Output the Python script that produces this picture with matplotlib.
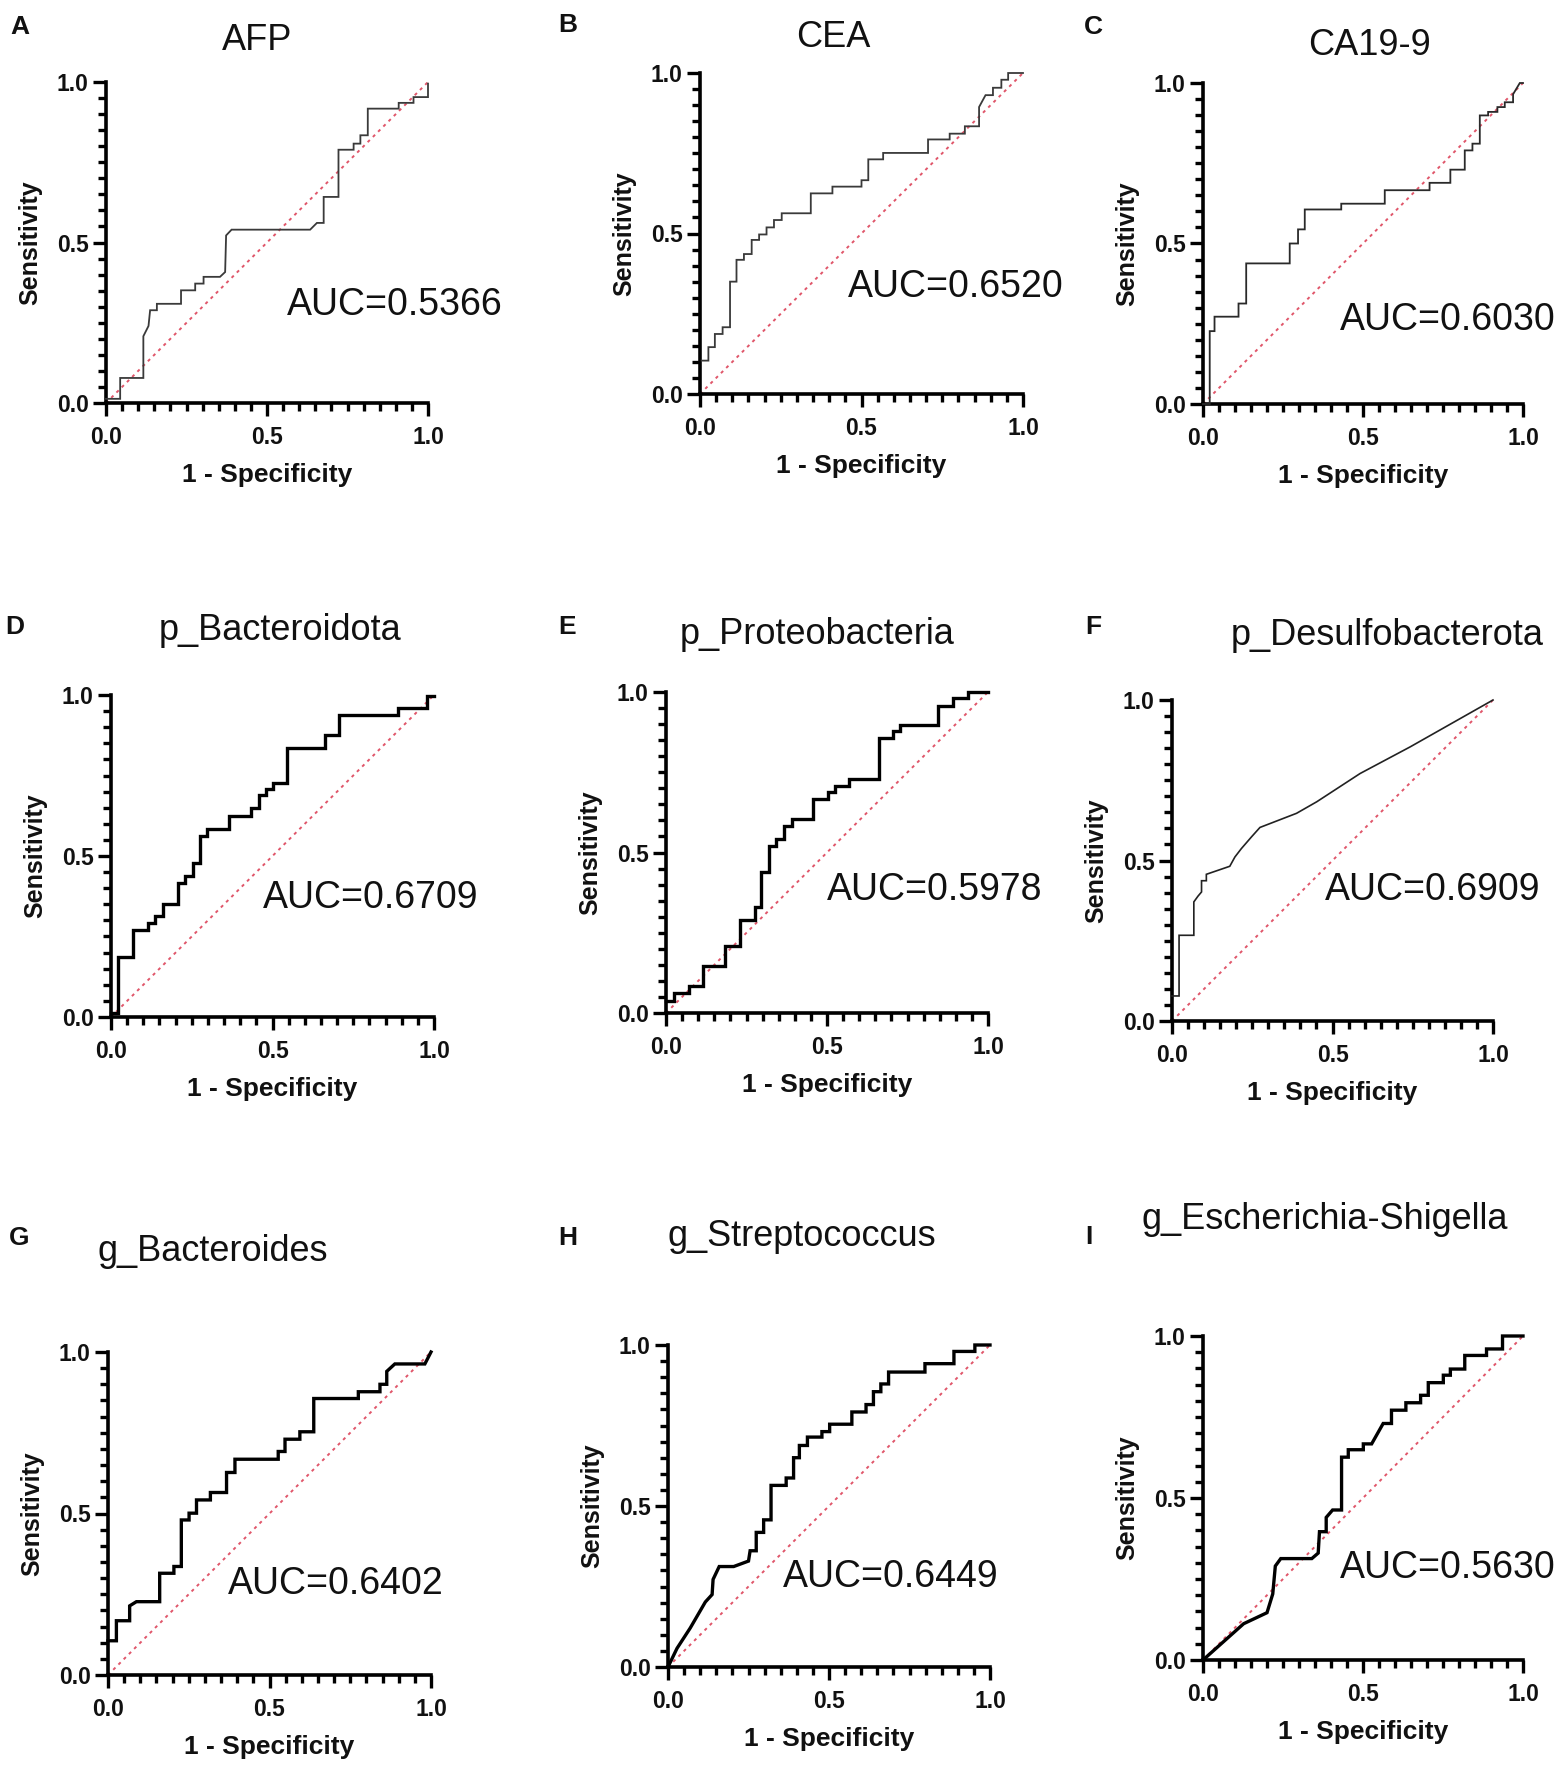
import matplotlib
matplotlib.use("Agg")
import matplotlib.pyplot as plt
from matplotlib.ticker import MultipleLocator

plt.rcParams['font.family'] = ['Liberation Sans', 'DejaVu Sans']

W, H = 1565, 1772

# ---------------- data ----------------
titles = ["AFP", "CEA", "CA19-9", "p_Bacteroidota", "p_Proteobacteria",
          "p_Desulfobacterota", "g_Bacteroides", "g_Streptococcus",
          "g_Escherichia-Shigella"]
letters = ["A", "B", "C", "D", "E", "F", "G", "H", "I"]
auc_labels = ["AUC=0.5366", "AUC=0.6520", "AUC=0.6030", "AUC=0.6709", "AUC=0.5978",
              "AUC=0.6909", "AUC=0.6402", "AUC=0.6449", "AUC=0.5630"]
tick_labels = ["0.0", "0.5", "1.0"]

afp_fpr = [0, 0.044, 0.044, 0.116, 0.116, 0.132, 0.137, 0.158, 0.158, 0.233, 0.233,
           0.277, 0.277, 0.303, 0.303, 0.354, 0.370, 0.373, 0.390, 0.634, 0.655, 0.676,
           0.676, 0.722, 0.722, 0.769, 0.769, 0.790, 0.790, 0.813, 0.813, 0.909, 0.909,
           0.955, 0.955, 1.0, 1.0]
afp_tpr = [0.013, 0.013, 0.078, 0.078, 0.208, 0.240, 0.289, 0.289, 0.309, 0.309, 0.351,
           0.351, 0.372, 0.372, 0.393, 0.393, 0.408, 0.522, 0.540, 0.540, 0.561, 0.561,
           0.642, 0.642, 0.789, 0.789, 0.808, 0.808, 0.834, 0.834, 0.917, 0.917, 0.935,
           0.935, 0.953, 0.953, 0.995]

cea_fpr = [0.005, 0.026, 0.026, 0.046, 0.046, 0.070, 0.070, 0.093, 0.093, 0.113, 0.113,
           0.136, 0.136, 0.160, 0.160, 0.183, 0.183, 0.206, 0.206, 0.229, 0.229, 0.253,
           0.253, 0.343, 0.343, 0.410, 0.410, 0.500, 0.500, 0.521, 0.521, 0.567, 0.567,
           0.706, 0.706, 0.773, 0.773, 0.820, 0.820, 0.864, 0.864, 0.884, 0.907, 0.907,
           0.933, 0.933, 0.954, 0.954, 1.0]
cea_tpr = [0.104, 0.104, 0.146, 0.146, 0.187, 0.187, 0.208, 0.208, 0.350, 0.350, 0.418,
           0.418, 0.436, 0.436, 0.480, 0.480, 0.497, 0.497, 0.519, 0.519, 0.542, 0.542,
           0.563, 0.563, 0.625, 0.625, 0.646, 0.646, 0.666, 0.666, 0.731, 0.731, 0.751,
           0.751, 0.793, 0.793, 0.811, 0.811, 0.834, 0.834, 0.894, 0.931, 0.931, 0.954,
           0.954, 0.979, 0.979, 1.0, 1.0]

ca199_fpr = [0.0, 0.021, 0.021, 0.036, 0.036, 0.111, 0.111, 0.135, 0.135, 0.271, 0.271,
             0.297, 0.297, 0.318, 0.318, 0.432, 0.432, 0.568, 0.568, 0.708, 0.708, 0.773,
             0.773, 0.818, 0.818, 0.842, 0.842, 0.865, 0.865, 0.891, 0.891, 0.920, 0.920,
             0.943, 0.943, 0.969, 0.969, 0.990, 1.0]
ca199_tpr = [0.0, 0.0, 0.227, 0.227, 0.272, 0.272, 0.313, 0.313, 0.438, 0.438, 0.500,
             0.500, 0.544, 0.544, 0.606, 0.606, 0.624, 0.624, 0.666, 0.666, 0.689, 0.689,
             0.730, 0.730, 0.790, 0.790, 0.811, 0.811, 0.899, 0.899, 0.910, 0.910, 0.925,
             0.925, 0.940, 0.940, 0.965, 1.0, 1.0]

bacteroidota_fpr = [0, 0.023, 0.023, 0.069, 0.069, 0.116, 0.116, 0.137, 0.137, 0.162, 0.162,
                    0.208, 0.208, 0.229, 0.229, 0.253, 0.253, 0.276, 0.276, 0.296, 0.296,
                    0.366, 0.366, 0.432, 0.432, 0.459, 0.459, 0.480, 0.480, 0.500, 0.500,
                    0.544, 0.544, 0.663, 0.663, 0.707, 0.707, 0.890, 0.890, 0.978, 0.978, 1.0]
bacteroidota_tpr = [0.012, 0.012, 0.187, 0.187, 0.269, 0.269, 0.292, 0.292, 0.313, 0.313,
                    0.352, 0.352, 0.415, 0.415, 0.437, 0.437, 0.479, 0.479, 0.563, 0.563,
                    0.585, 0.585, 0.624, 0.624, 0.648, 0.648, 0.689, 0.689, 0.707, 0.707,
                    0.727, 0.727, 0.834, 0.834, 0.876, 0.876, 0.938, 0.938, 0.959, 0.959,
                    0.997, 0.997]

proteobacteria_fpr = [0, 0.026, 0.026, 0.070, 0.070, 0.116, 0.116, 0.183, 0.183, 0.229,
                      0.229, 0.276, 0.276, 0.296, 0.296, 0.320, 0.320, 0.343, 0.343, 0.367,
                      0.367, 0.390, 0.390, 0.458, 0.458, 0.504, 0.504, 0.525, 0.525, 0.569,
                      0.569, 0.662, 0.662, 0.706, 0.706, 0.726, 0.726, 0.845, 0.845, 0.890,
                      0.890, 0.938, 0.938, 1.0]
proteobacteria_tpr = [0.036, 0.036, 0.062, 0.062, 0.083, 0.083, 0.147, 0.147, 0.210, 0.210,
                      0.291, 0.291, 0.330, 0.330, 0.438, 0.438, 0.521, 0.521, 0.542, 0.542,
                      0.584, 0.584, 0.604, 0.604, 0.667, 0.667, 0.687, 0.687, 0.708, 0.708,
                      0.729, 0.729, 0.857, 0.857, 0.877, 0.877, 0.898, 0.898, 0.957, 0.957,
                      0.981, 0.981, 1.0, 1.0]

desulfo_fpr = [0, 0.022, 0.022, 0.068, 0.068, 0.081, 0.092, 0.092, 0.107, 0.107, 0.180,
               0.196, 0.216, 0.248, 0.274, 0.388, 0.451, 0.586, 0.742, 1.0]
desulfo_tpr = [0.078, 0.078, 0.267, 0.267, 0.371, 0.389, 0.402, 0.437, 0.437, 0.457, 0.482,
               0.511, 0.537, 0.574, 0.603, 0.647, 0.683, 0.771, 0.854, 1.0]

bacteroides_fpr = [0, 0.026, 0.026, 0.067, 0.067, 0.088, 0.160, 0.160, 0.204, 0.204, 0.227,
                   0.227, 0.251, 0.251, 0.274, 0.274, 0.317, 0.317, 0.367, 0.367, 0.393,
                   0.393, 0.527, 0.527, 0.548, 0.548, 0.594, 0.594, 0.637, 0.637, 0.775,
                   0.775, 0.842, 0.842, 0.863, 0.863, 0.888, 0.981, 1.0]
bacteroides_tpr = [0.106, 0.106, 0.168, 0.168, 0.214, 0.227, 0.227, 0.315, 0.315, 0.336,
                   0.336, 0.480, 0.480, 0.501, 0.501, 0.542, 0.542, 0.565, 0.565, 0.627,
                   0.627, 0.668, 0.668, 0.692, 0.692, 0.730, 0.730, 0.753, 0.753, 0.856,
                   0.856, 0.877, 0.877, 0.900, 0.900, 0.940, 0.963, 0.963, 1.0]

strepto_fpr = [0, 0.028, 0.069, 0.116, 0.137, 0.140, 0.159, 0.204, 0.250, 0.255, 0.274,
               0.274, 0.297, 0.297, 0.320, 0.320, 0.367, 0.367, 0.390, 0.390, 0.408, 0.408,
               0.433, 0.433, 0.478, 0.478, 0.502, 0.502, 0.571, 0.571, 0.615, 0.615, 0.638,
               0.638, 0.661, 0.661, 0.685, 0.685, 0.798, 0.798, 0.888, 0.888, 0.953, 0.953,
               1.0]
strepto_tpr = [0, 0.058, 0.121, 0.202, 0.225, 0.272, 0.312, 0.312, 0.329, 0.361, 0.361,
               0.418, 0.418, 0.457, 0.457, 0.564, 0.564, 0.587, 0.587, 0.650, 0.650, 0.688,
               0.688, 0.714, 0.714, 0.731, 0.731, 0.754, 0.754, 0.792, 0.792, 0.815, 0.815,
               0.855, 0.855, 0.879, 0.879, 0.916, 0.916, 0.942, 0.942, 0.980, 0.980, 1.0,
               1.0]

escherichia_fpr = [0, 0.127, 0.200, 0.218, 0.226, 0.243, 0.340, 0.360, 0.364, 0.385, 0.385,
                   0.405, 0.433, 0.433, 0.454, 0.454, 0.501, 0.501, 0.527, 0.563, 0.589,
                   0.589, 0.634, 0.634, 0.680, 0.680, 0.704, 0.704, 0.751, 0.751, 0.773,
                   0.773, 0.818, 0.818, 0.886, 0.886, 0.936, 0.936, 1.0]
escherichia_tpr = [0, 0.112, 0.146, 0.204, 0.290, 0.313, 0.313, 0.330, 0.396, 0.396, 0.440,
                   0.463, 0.463, 0.626, 0.626, 0.649, 0.649, 0.667, 0.667, 0.730, 0.730,
                   0.771, 0.771, 0.794, 0.794, 0.817, 0.817, 0.856, 0.856, 0.879, 0.879,
                   0.898, 0.898, 0.940, 0.940, 0.960, 0.960, 1.0, 1.0]

curves_fpr = [afp_fpr, cea_fpr, ca199_fpr, bacteroidota_fpr, proteobacteria_fpr,
              desulfo_fpr, bacteroides_fpr, strepto_fpr, escherichia_fpr]
curves_tpr = [afp_tpr, cea_tpr, ca199_tpr, bacteroidota_tpr, proteobacteria_tpr,
              desulfo_tpr, bacteroides_tpr, strepto_tpr, escherichia_tpr]

# ---------------- layout (pixel boxes measured on the reference) ----------------
axes_px = [(106, 428, 82, 403), (700, 1023, 73, 394), (1203, 1523, 83, 404),
           (111, 434, 695, 1017), (666, 988, 692, 1013), (1172, 1493, 700, 1021),
           (108, 431, 1352, 1675), (668, 990, 1345, 1667), (1203, 1523, 1336, 1660)]
title_px = [(257, 50), (833, 47), (1370, 55), (280, 640), (817, 644), (1387, 645),
            (213, 1261), (802, 1246), (1325, 1229)]
letter_px = [(20, 27), (568, 25), (1093, 27), (15, 627), (567, 627), (1093, 627),
             (19, 1238), (568, 1238), (1089, 1237)]
auc_px = [(287, 315), (848, 297), (1340, 330), (263, 908), (827, 900), (1325, 900),
          (228, 1594), (783, 1587), (1340, 1578)]
curve_lw = [1.3, 1.3, 1.3, 2.4, 2.4, 1.2, 2.4, 2.4, 2.4]
curve_col = ["#3a3a3a", "#3a3a3a", "#2a2a2a", "black", "black", "#222222",
             "black", "black", "black"]


def fx(x):
    return x / W


def fy(y):
    return 1 - y / H


fig = plt.figure(figsize=(W / 100, H / 100), dpi=100)

for i in range(9):
    x0, x1, y0, y1 = axes_px[i]
    ax = fig.add_axes([fx(x0), fy(y1), (x1 - x0) / W, (y1 - y0) / H])
    ax.plot([0, 1], [0, 1], color="#e0566a", lw=1.4, linestyle=(0, (1.6, 2.2)),
            clip_on=False, zorder=2)
    ax.plot(curves_fpr[i], curves_tpr[i], color=curve_col[i], lw=curve_lw[i],
            clip_on=False, zorder=3, solid_joinstyle="miter")
    ax.set_xlim(0, 1)
    ax.set_ylim(0, 1)
    for s in ["top", "right"]:
        ax.spines[s].set_visible(False)
    for s in ["left", "bottom"]:
        ax.spines[s].set_linewidth(2.6)
    ax.xaxis.set_minor_locator(MultipleLocator(0.05))
    ax.yaxis.set_minor_locator(MultipleLocator(0.05))
    ax.set_xticks([0, 0.5, 1.0])
    ax.set_xticklabels(tick_labels)
    ax.set_yticks([0, 0.5, 1.0])
    ax.set_yticklabels(tick_labels)
    ax.tick_params(axis="both", which="major", direction="out", length=9.5, width=2.4)
    ax.tick_params(axis="both", which="minor", direction="out", length=5.5, width=2.4)
    ax.tick_params(axis="x", which="major", pad=7)
    ax.tick_params(axis="y", which="major", pad=3)
    for lab in ax.get_xticklabels() + ax.get_yticklabels():
        lab.set_fontsize(16.5)
        lab.set_fontweight("bold")
        lab.set_color("#111111")
    ax.set_xlabel("1 - Specificity", fontsize=19, fontweight="bold", color="#111111")
    ax.set_ylabel("Sensitivity", fontsize=18, fontweight="bold", color="#111111")
    ax.xaxis.set_label_coords(0.5, -60 / (y1 - y0))
    ax.yaxis.set_label_coords(-64 / (x1 - x0), 0.5)
    ax.patch.set_alpha(0)

    tx, ty = title_px[i]
    fig.text(fx(tx), fy(ty), titles[i], fontsize=26, ha="center", va="baseline",
             color="#111111")
    lx, ly = letter_px[i]
    fig.text(fx(lx), fy(ly), letters[i], fontsize=19, fontweight="bold",
             ha="center", va="center", color="#111111")
    axx, axy = auc_px[i]
    fig.text(fx(axx), fy(axy), auc_labels[i], fontsize=27, ha="left", va="baseline",
             color="#111111")

fig.savefig("out.png", dpi=100, facecolor="white")
